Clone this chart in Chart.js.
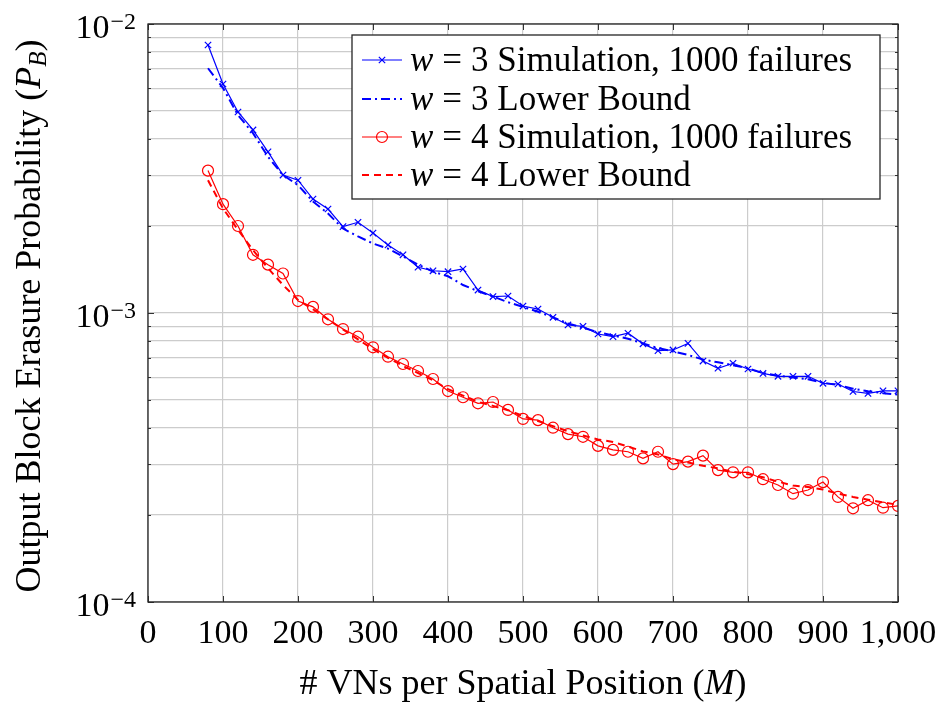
<!DOCTYPE html>
<html>
<head>
<meta charset="utf-8">
<script src="https://cdn.jsdelivr.net/npm/chart.js@4.4.0/dist/chart.umd.min.js"></script>
<style>
  html, body { margin: 0; padding: 0; background: #fff; }
  #wrap { width: 940px; height: 705px; }
</style>
</head>
<body>
<div id="wrap"><canvas id="chart" width="940" height="705"></canvas></div>
<script>
// Datos
const M = [80, 100, 120, 140, 160, 180, 200, 220, 240, 260, 280, 300, 320, 340, 360, 380, 400, 420, 440, 460,
           480, 500, 520, 540, 560, 580, 600, 620, 640, 660, 680, 700, 720, 740, 760, 780, 800, 820, 840, 860,
           880, 900, 920, 940, 960, 980, 1000];

const w3Sim = [8.46e-3, 6.20e-3, 4.96e-3, 4.30e-3, 3.61e-3, 3.00e-3, 2.88e-3, 2.48e-3, 2.29e-3, 1.99e-3,
               2.06e-3, 1.89e-3, 1.72e-3, 1.59e-3, 1.44e-3, 1.40e-3, 1.39e-3, 1.42e-3, 1.20e-3, 1.14e-3,
               1.145e-3, 1.057e-3, 1.032e-3, 9.66e-4, 9.09e-4, 8.99e-4, 8.46e-4, 8.28e-4, 8.51e-4, 7.82e-4,
               7.41e-4, 7.45e-4, 7.85e-4, 6.82e-4, 6.44e-4, 6.70e-4, 6.40e-4, 6.18e-4, 6.04e-4, 6.04e-4,
               6.04e-4, 5.71e-4, 5.68e-4, 5.35e-4, 5.27e-4, 5.38e-4, 5.38e-4];

const w3Bound = [7.03e-3, 6.00e-3, 4.84e-3, 4.19e-3, 3.47e-3, 3.00e-3, 2.77e-3, 2.43e-3, 2.21e-3, 1.96e-3,
                 1.84e-3, 1.74e-3, 1.67e-3, 1.57e-3, 1.47e-3, 1.39e-3, 1.34e-3, 1.25e-3, 1.19e-3, 1.14e-3,
                 1.09e-3, 1.05e-3, 1.01e-3, 9.66e-4, 9.20e-4, 8.90e-4, 8.58e-4, 8.36e-4, 8.15e-4, 7.85e-4,
                 7.56e-4, 7.36e-4, 7.16e-4, 6.90e-4, 6.75e-4, 6.60e-4, 6.44e-4, 6.20e-4, 6.07e-4, 5.98e-4,
                 5.90e-4, 5.74e-4, 5.63e-4, 5.47e-4, 5.36e-4, 5.28e-4, 5.22e-4];

const w4Sim = [3.11e-3, 2.38e-3, 2.00e-3, 1.59e-3, 1.47e-3, 1.37e-3, 1.10e-3, 1.05e-3, 9.51e-4, 8.80e-4,
               8.28e-4, 7.61e-4, 7.06e-4, 6.66e-4, 6.30e-4, 5.91e-4, 5.37e-4, 5.11e-4, 4.87e-4, 4.92e-4,
               4.62e-4, 4.30e-4, 4.26e-4, 4.01e-4, 3.81e-4, 3.73e-4, 3.47e-4, 3.36e-4, 3.31e-4, 3.14e-4,
               3.31e-4, 3.00e-4, 3.06e-4, 3.21e-4, 2.86e-4, 2.81e-4, 2.81e-4, 2.66e-4, 2.54e-4, 2.37e-4,
               2.44e-4, 2.60e-4, 2.31e-4, 2.11e-4, 2.25e-4, 2.12e-4, 2.15e-4];

const w4Bound = [2.88e-3, 2.30e-3, 1.94e-3, 1.65e-3, 1.43e-3, 1.25e-3, 1.11e-3, 1.03e-3, 9.50e-4, 8.77e-4,
                 8.10e-4, 7.50e-4, 7.00e-4, 6.56e-4, 6.20e-4, 5.85e-4, 5.45e-4, 5.18e-4, 4.93e-4, 4.77e-4,
                 4.61e-4, 4.40e-4, 4.23e-4, 4.06e-4, 3.90e-4, 3.77e-4, 3.65e-4, 3.58e-4, 3.45e-4, 3.32e-4,
                 3.24e-4, 3.12e-4, 3.04e-4, 2.96e-4, 2.90e-4, 2.82e-4, 2.77e-4, 2.70e-4, 2.61e-4, 2.53e-4,
                 2.50e-4, 2.45e-4, 2.37e-4, 2.31e-4, 2.26e-4, 2.21e-4, 2.17e-4];

const xTicks = [0, 100, 200, 300, 400, 500, 600, 700, 800, 900, 1000];
const xTickLabels = ['0', '100', '200', '300', '400', '500', '600', '700', '800', '900', '1,000'];
const yMajor = [1e-4, 1e-3, 1e-2];
const yExponents = ['\u22124', '\u22123', '\u22122'];
const yMinor = [2e-4, 3e-4, 4e-4, 5e-4, 6e-4, 7e-4, 8e-4, 9e-4, 2e-3, 3e-3, 4e-3, 5e-3, 6e-3, 7e-3, 8e-3, 9e-3];

const FONT = '"Liberation Serif", "Times New Roman", serif';
const SIZE_TITULO = 36;
const SIZE_LEYENDA = 35;
const BLUE = '#0000ff';
const RED = '#ff0000';

const puntos = (ys) => M.map((m, i) => ({ x: m, y: ys[i] }));

// texto con partes en cursiva / subindice
const fuente = (p, size) => (p.italic ? 'italic ' : '') + Math.round(size * (p.scale || 1)) + 'px ' + FONT;

const anchoRico = (ctx, partes, size) => {
    let w = 0;
    partes.forEach(p => {
        ctx.font = fuente(p, size);
        w += ctx.measureText(p.t).width + (p.gap || 0);
    });
    return w;
};

const dibujarRico = (ctx, partes, x, y, size, align) => {
    const w = anchoRico(ctx, partes, size);
    let cx = align === 'center' ? x - w / 2 : (align === 'right' ? x - w : x);
    ctx.textAlign = 'left';
    ctx.textBaseline = 'alphabetic';
    partes.forEach(p => {
        ctx.font = fuente(p, size);
        ctx.fillText(p.t, cx, y + (p.dy || 0));
        cx += ctx.measureText(p.t).width + (p.gap || 0);
    });
};

const entradasLeyenda = [
    { ds: 0, n: '3', txt: ' Simulation, 1000 failures' },
    { ds: 1, n: '3', txt: ' Lower Bound' },
    { ds: 2, n: '4', txt: ' Simulation, 1000 failures' },
    { ds: 3, n: '4', txt: ' Lower Bound' }
];

const decoracion = {
    id: 'decoracion',
    afterDraw(chart) {
        const ctx = chart.ctx;
        const a = chart.chartArea;
        const xs = chart.scales.x;
        const ys = chart.scales.y;
        ctx.save();

        // marcas de los ejes
        ctx.strokeStyle = '#333';
        ctx.lineWidth = 1;
        ctx.beginPath();
        xTicks.forEach(v => {
            const px = Math.round(xs.getPixelForValue(v)) + 0.5;
            ctx.moveTo(px, a.bottom); ctx.lineTo(px, a.bottom - 6);
            ctx.moveTo(px, a.top); ctx.lineTo(px, a.top + 6);
        });
        yMajor.forEach(v => {
            const py = Math.round(ys.getPixelForValue(v)) + 0.5;
            ctx.moveTo(a.left, py); ctx.lineTo(a.left + 6, py);
            ctx.moveTo(a.right, py); ctx.lineTo(a.right - 6, py);
        });
        yMinor.forEach(v => {
            const py = Math.round(ys.getPixelForValue(v)) + 0.5;
            ctx.moveTo(a.left, py); ctx.lineTo(a.left + 3, py);
            ctx.moveTo(a.right, py); ctx.lineTo(a.right - 3, py);
        });
        ctx.stroke();

        // marco
        ctx.lineWidth = 1.3;
        ctx.strokeStyle = '#262626';
        ctx.strokeRect(a.left, a.top, a.right - a.left, a.bottom - a.top);

        // etiquetas eje x
        ctx.fillStyle = '#000';
        xTicks.forEach((v, i) => {
            dibujarRico(ctx, [{ t: xTickLabels[i] }], xs.getPixelForValue(v), a.bottom + 41, 34, 'center');
        });

        // etiquetas eje y
        yMajor.forEach((v, i) => {
            const py = ys.getPixelForValue(v);
            dibujarRico(ctx, [{ t: '10', gap: 1 }, { t: yExponents[i], scale: 0.72, dy: -9 }], 136, py + 14, 34, 'right');
        });

        // titulo eje x
        dibujarRico(ctx, [{ t: '# VNs per Spatial Position (' }, { t: 'M', italic: true }, { t: ')' }],
            (a.left + a.right) / 2, 694, SIZE_TITULO, 'center');

        // titulo eje y
        ctx.save();
        ctx.translate(40, 316);
        ctx.rotate(-Math.PI / 2);
        dibujarRico(ctx, [{ t: 'Output Block Erasure Probability (' }, { t: 'P', italic: true },
            { t: 'B', italic: true, scale: 0.7, dy: 6 }, { t: ')' }], 0, 0, SIZE_TITULO, 'center');
        ctx.restore();

        // leyenda
        const lx = 352, ly = 35, lw = 528, lh = 164;
        ctx.fillStyle = '#fff';
        ctx.fillRect(lx, ly, lw, lh);
        ctx.strokeStyle = '#262626';
        ctx.lineWidth = 1.3;
        ctx.strokeRect(lx, ly, lw, lh);
        const filas = [60, 99, 137, 175];
        entradasLeyenda.forEach((e, i) => {
            const ds = chart.data.datasets[e.ds];
            const y = filas[i];
            ctx.save();
            ctx.strokeStyle = ds.borderColor;
            ctx.lineWidth = ds.borderWidth;
            ctx.setLineDash(ds.borderDash || []);
            ctx.beginPath();
            ctx.moveTo(362, y); ctx.lineTo(402, y);
            ctx.stroke();
            ctx.setLineDash([]);
            if (ds.pointRadius > 0) {
                ctx.fillStyle = 'rgba(0,0,0,0)';
                ctx.strokeStyle = ds.pointBorderColor;
                ctx.lineWidth = ds.pointBorderWidth;
                Chart.helpers.drawPoint(ctx, {
                    pointStyle: ds.pointStyle, radius: ds.pointRadius, borderWidth: ds.pointBorderWidth, rotation: 0
                }, 382, y);
            }
            ctx.restore();
            ctx.fillStyle = '#000';
            dibujarRico(ctx, [{ t: 'w', italic: true, gap: 9 }, { t: '=', gap: 9 }, { t: e.n + e.txt }],
                410, y + 11, SIZE_LEYENDA, 'left');
        });

        ctx.restore();
    }
};

const inicializarGrafico = () => {
    const ctx = document.getElementById('chart');
    new Chart(ctx, {
        type: 'line',
        data: {
            datasets: [
                {
                    label: 'w = 3 Simulation, 1000 failures',
                    data: puntos(w3Sim),
                    borderColor: BLUE,
                    backgroundColor: 'rgba(0,0,0,0)',
                    borderWidth: 1.2,
                    pointStyle: 'crossRot',
                    pointRadius: 4.5,
                    pointBorderWidth: 1.2,
                    pointBorderColor: BLUE,
                    tension: 0
                },
                {
                    label: 'w = 3 Lower Bound',
                    data: puntos(w3Bound),
                    borderColor: BLUE,
                    backgroundColor: 'rgba(0,0,0,0)',
                    borderWidth: 2,
                    borderDash: [9, 4, 2, 4],
                    pointRadius: 0,
                    tension: 0
                },
                {
                    label: 'w = 4 Simulation, 1000 failures',
                    data: puntos(w4Sim),
                    borderColor: RED,
                    backgroundColor: 'rgba(0,0,0,0)',
                    borderWidth: 1.2,
                    pointStyle: 'circle',
                    pointRadius: 5.5,
                    pointBorderWidth: 1.2,
                    pointBorderColor: RED,
                    pointBackgroundColor: 'rgba(0,0,0,0)',
                    tension: 0
                },
                {
                    label: 'w = 4 Lower Bound',
                    data: puntos(w4Bound),
                    borderColor: RED,
                    backgroundColor: 'rgba(0,0,0,0)',
                    borderWidth: 2,
                    borderDash: [7, 5],
                    pointRadius: 0,
                    tension: 0
                }
            ]
        },
        options: {
            responsive: false,
            animation: false,
            devicePixelRatio: 1,
            layout: { padding: { left: 148, right: 42, top: 24, bottom: 103 } },
            plugins: {
                legend: { display: false },
                tooltip: { enabled: false }
            },
            scales: {
                x: {
                    type: 'linear',
                    min: 0,
                    max: 1000,
                    afterBuildTicks: (s) => { s.ticks = xTicks.map(v => ({ value: v })); },
                    ticks: { display: false },
                    grid: { color: '#cccccc', lineWidth: 1.2, drawTicks: false },
                    border: { display: false }
                },
                y: {
                    type: 'logarithmic',
                    min: 1e-4,
                    max: 1e-2,
                    afterBuildTicks: (s) => {
                        s.ticks = yMajor.concat(yMinor).sort((p, q) => p - q).map(v => ({ value: v }));
                    },
                    ticks: { display: false },
                    grid: { color: '#cccccc', lineWidth: 1.2, drawTicks: false },
                    border: { display: false }
                }
            }
        },
        plugins: [decoracion]
    });
};

if (document.readyState === 'loading') {
    document.addEventListener('DOMContentLoaded', inicializarGrafico);
} else {
    inicializarGrafico();
}
</script>
</body>
</html>
